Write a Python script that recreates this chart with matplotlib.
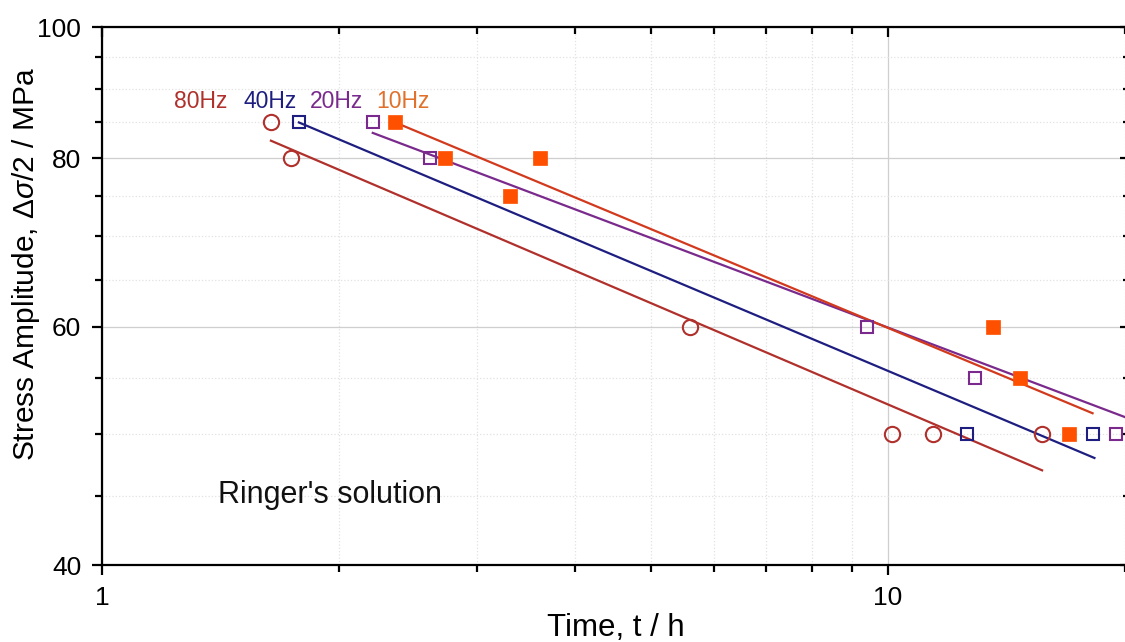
import numpy as np
import matplotlib.pyplot as plt
from matplotlib.ticker import FixedLocator, NullFormatter

plt.rcParams['font.family'] = ['Liberation Sans', 'DejaVu Sans']
plt.rcParams['mathtext.fontset'] = 'custom'
plt.rcParams['mathtext.rm'] = 'Liberation Sans'
plt.rcParams['mathtext.it'] = 'Liberation Sans:italic'

# 80 Hz (open circles)
t80 = [1.64, 1.74, 5.6, 10.1, 11.4, 15.7]
s80 = [85, 80, 60, 50, 50, 50]
# 40 Hz (open squares)
t40 = [1.78, 12.6, 18.2]
s40 = [85, 50, 50]
# 20 Hz (open squares)
t20 = [2.21, 2.61, 9.4, 12.9, 19.5]
s20 = [85, 80, 60, 55, 50]
# 10 Hz (filled squares)
t10 = [2.36, 2.73, 3.30, 3.61, 13.6, 14.7, 17.0]
s10 = [85, 80, 75, 80, 60, 55, 50]

# fitted lines (start / end)
fit_t = {'80': [1.64, 15.7], '40': [1.78, 18.3], '20': [2.21, 20.3], '10': [2.36, 18.2]}
fit_s = {'80': [82.4, 47.0], '40': [85.0, 48.0], '20': [83.5, 51.3], '10': [85.0, 51.8]}

c80 = '#B0302C'
c40 = '#1E1E80'
c20 = '#7A2A8C'
c10m = '#FF5000'
c10l = '#D23A1E'
c10t = '#E0702A'

fig = plt.figure(figsize=(11.25, 6.42), dpi=100)
ax = fig.add_axes([0.0907, 0.1199, 0.9136, 0.8380])
ax.set_xscale('log')
ax.set_yscale('log')
ax.set_xlim(1, 20.3)
ax.set_ylim(40, 100)

ax.plot(fit_t['80'], fit_s['80'], color=c80, lw=1.6)
ax.plot(fit_t['40'], fit_s['40'], color=c40, lw=1.6)
ax.plot(fit_t['20'], fit_s['20'], color=c20, lw=1.6)
ax.plot(fit_t['10'], fit_s['10'], color=c10l, lw=1.6)

ax.plot(t80, s80, 'o', ms=11, mfc='none', mec=c80, mew=1.5, ls='none')
ax.plot(t40, s40, 's', ms=9, mfc='none', mec=c40, mew=1.5, ls='none')
ax.plot(t20, s20, 's', ms=9, mfc='none', mec=c20, mew=1.5, ls='none')
ax.plot(t10, s10, 's', ms=10, mfc=c10m, mec=c10m, mew=0.5, ls='none')

ax.yaxis.set_major_locator(FixedLocator([40, 60, 80, 100]))
ax.yaxis.set_minor_locator(FixedLocator([45, 50, 55, 65, 70, 75, 85, 90, 95]))
ax.yaxis.set_major_formatter(plt.FixedFormatter(['40', '60', '80', '100']))
ax.yaxis.set_minor_formatter(NullFormatter())
ax.xaxis.set_major_locator(FixedLocator([1, 10]))
ax.xaxis.set_major_formatter(plt.FixedFormatter(['1', '10']))
ax.xaxis.set_minor_locator(FixedLocator([2, 3, 4, 5, 6, 7, 8, 9, 20]))
ax.xaxis.set_minor_formatter(NullFormatter())

ax.grid(True, which='major', color='#CFCFCF', lw=0.9)
ax.grid(True, which='minor', color='#E2E2E2', lw=0.9, ls=':')
ax.set_axisbelow(True)

for sp in ax.spines.values():
    sp.set_linewidth(1.6)
ax.tick_params(which='both', labelsize=19, width=1.6)
ax.tick_params(which='major', length=7)
ax.tick_params(which='minor', length=5)
ax.tick_params(axis='x', which='both', top=True, direction='out', pad=8)
ax.tick_params(axis='y', which='both', right=True, direction='out', pad=8)
for t in ax.xaxis.get_ticklines(minor=True)[1::2] + ax.xaxis.get_ticklines()[1::2]:
    t.set_marker(3)
for t in ax.yaxis.get_ticklines(minor=True)[1::2] + ax.yaxis.get_ticklines()[1::2]:
    t.set_marker(0)

ax.set_xlabel('Time, t / h', fontsize=22.5, labelpad=2)
ax.set_ylabel('Stress Amplitude, $\\mathit{\\Delta\\sigma/2}$ / MPa', fontsize=21.5)
ax.yaxis.set_label_coords(-0.058, 0.56)

ax.text(1.336, 87.1, '80Hz', color=c80, fontsize=16.5, ha='center', va='baseline')
ax.text(1.634, 87.1, '40Hz', color=c40, fontsize=16.5, ha='center', va='baseline')
ax.text(1.985, 87.1, '20Hz', color=c20, fontsize=16.5, ha='center', va='baseline')
ax.text(2.415, 87.1, '10Hz', color=c10t, fontsize=16.5, ha='center', va='baseline')
ax.text(1.405, 44.45, "Ringer's solution", color='#111111', fontsize=22, ha='left', va='baseline')

fig.savefig('out.png', dpi=100)
